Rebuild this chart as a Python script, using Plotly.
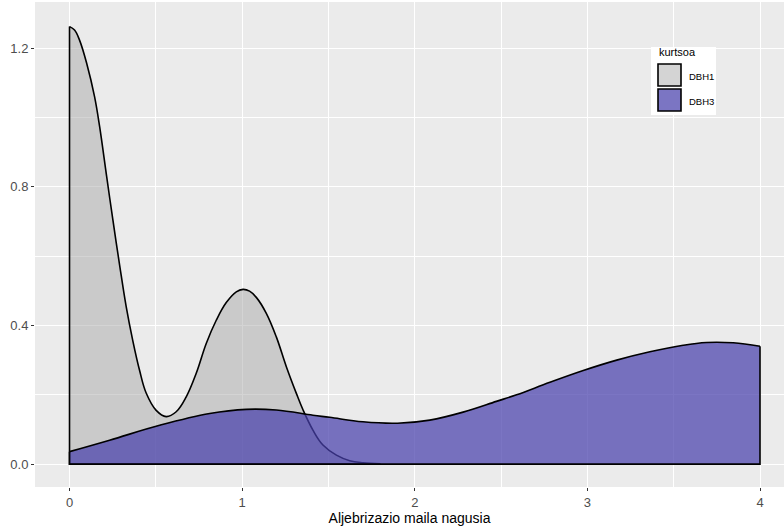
import plotly.graph_objects as go

# Density estimates of the main algebraization level, per course group
dbh1_x = [0.0, 0.029, 0.058, 0.100, 0.145, 0.174, 0.215, 0.251, 0.290, 0.328, 0.367,
          0.406, 0.444, 0.502, 0.560, 0.618, 0.676, 0.734, 0.792, 0.850, 0.908,
          0.966, 1.005, 1.043, 1.082, 1.140, 1.198, 1.256, 1.314, 1.353, 1.410,
          1.468, 1.546, 1.623, 1.700, 1.800]
dbh1_y = [1.262, 1.252, 1.223, 1.155, 1.060, 0.975, 0.830, 0.705, 0.575, 0.455, 0.355,
          0.270, 0.205, 0.155, 0.137, 0.151, 0.194, 0.262, 0.348, 0.415, 0.466,
          0.497, 0.504, 0.499, 0.481, 0.435, 0.367, 0.281, 0.204, 0.156, 0.098,
          0.055, 0.026, 0.010, 0.004, 0.001]

dbh3_x = [0.0, 0.232, 0.522, 0.812, 1.024, 1.198, 1.410, 1.507, 1.700, 1.900,
          2.087, 2.280, 2.473, 2.590, 2.783, 2.976, 3.170, 3.362, 3.555, 3.690,
          3.845, 4.0]
dbh3_y = [0.036, 0.069, 0.112, 0.146, 0.158, 0.156, 0.141, 0.135, 0.122, 0.118,
          0.127, 0.150, 0.181, 0.200, 0.236, 0.270, 0.300, 0.324, 0.343, 0.351,
          0.350, 0.340]

groups = ["DBH1", "DBH3"]
fills = ["rgba(165,165,165,0.48)", "rgba(72,64,172,0.72)"]
legend_title = "kurtsoa"
x_ticks = [0, 1, 2, 3, 4]
y_ticks = [0.0, 0.4, 0.8, 1.2]
y_tick_text = ["0.0", "0.4", "0.8", "1.2"]

W, H = 784, 529
ML, MR, MT, MB = 35, 0, 2, 42


def px2paper(px, py):
    """Convert page pixel position to paper coordinates of the plot area."""
    return ((px - ML) / (W - ML - MR), (H - MB - py) / (H - MT - MB))


fig = go.Figure()

for name, xs, ys, fc in zip(groups, [dbh1_x, dbh3_x], [dbh1_y, dbh3_y], fills):
    # density curve with the area beneath it filled
    fig.add_trace(go.Scatter(x=xs, y=ys, mode="lines", fill="tozeroy", fillcolor=fc,
                             line=dict(color="black", width=1.6, shape="spline", smoothing=1.1),
                             hoverinfo="skip", showlegend=False, name=name))
    # baseline and vertical edges of the area
    fig.add_trace(go.Scatter(x=[xs[0], xs[0], xs[-1], xs[-1]], y=[ys[0], 0, 0, ys[-1]],
                             mode="lines", line=dict(color="black", width=1.6),
                             hoverinfo="skip", showlegend=False))

# legend drawn as a small box with fill keys
shapes = []
annotations = []
x0, y0 = px2paper(651, 115)
x1, y1 = px2paper(716, 47)
shapes.append(dict(type="rect", xref="paper", yref="paper", x0=x0, y0=y0, x1=x1, y1=y1,
                   fillcolor="white", line=dict(width=0), layer="above"))
tx, ty = px2paper(657, 52)
annotations.append(dict(text=legend_title, xref="paper", yref="paper", x=tx, y=ty,
                        xanchor="left", yanchor="middle", showarrow=False,
                        font=dict(size=11, color="black")))
for i, (name, fc) in enumerate(zip(groups, fills)):
    top = 64 + i * 25
    kx0, ky0 = px2paper(658, top + 22)
    kx1, ky1 = px2paper(681, top)
    shapes.append(dict(type="rect", xref="paper", yref="paper", x0=kx0, y0=ky0, x1=kx1, y1=ky1,
                       fillcolor=fc, line=dict(color="black", width=1.6), layer="above"))
    lx, ly = px2paper(687, top + 12)
    annotations.append(dict(text=name, xref="paper", yref="paper", x=lx, y=ly,
                            xanchor="left", yanchor="middle", showarrow=False,
                            font=dict(size=9.5, color="black")))

fig.update_layout(
    width=W, height=H,
    margin=dict(l=ML, r=MR, t=MT, b=MB),
    paper_bgcolor="white",
    plot_bgcolor="#EBEBEB",
    font=dict(family="Liberation Sans, Arial, sans-serif", color="black"),
    showlegend=False,
    shapes=shapes,
    annotations=annotations,
    xaxis=dict(
        range=[-0.2, 4.139], tickmode="array", tickvals=x_ticks,
        ticktext=[str(v) for v in x_ticks],
        showgrid=True, gridcolor="white", gridwidth=1.2, zeroline=False,
        ticks="outside", ticklen=3, tickcolor="#333333",
        tickfont=dict(size=13, color="#4D4D4D"),
        minor=dict(dtick=0.5, showgrid=True, gridcolor="white", gridwidth=0.5, ticks=""),
        title=dict(text="Aljebrizazio maila nagusia", font=dict(size=14), standoff=4),
        showline=False,
    ),
    yaxis=dict(
        range=[-0.066, 1.333], tickmode="array", tickvals=y_ticks, ticktext=y_tick_text,
        showgrid=True, gridcolor="white", gridwidth=1.2, zeroline=False,
        ticks="outside", ticklen=3, tickcolor="#333333",
        tickfont=dict(size=13, color="#4D4D4D"),
        minor=dict(dtick=0.2, showgrid=True, gridcolor="white", gridwidth=0.5, ticks=""),
        showline=False,
    ),
)

fig.write_html("out.html")
